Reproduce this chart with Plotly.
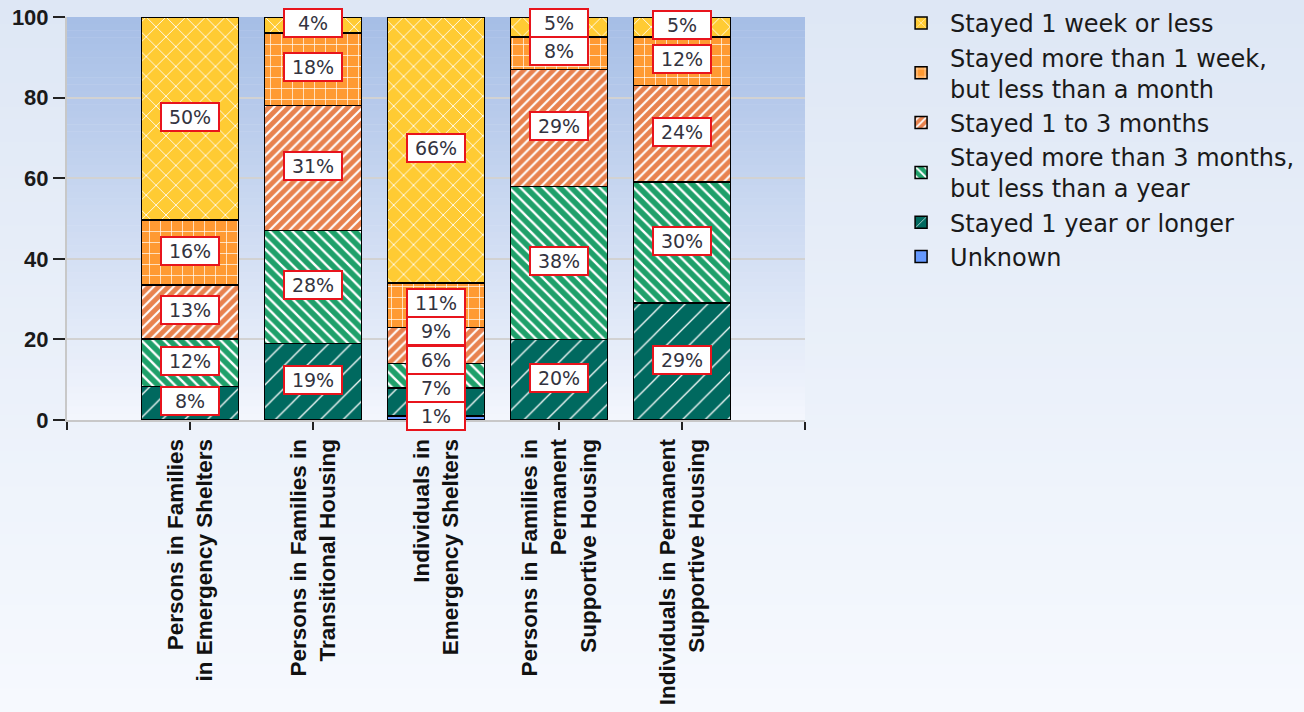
import plotly.graph_objects as go

categories = [
    "Persons in Families<br>in Emergency Shelters",
    "Persons in Families in<br>Transitional Housing",
    "Individuals in<br>Emergency Shelters",
    "Persons in Families in<br>Permanent<br>Supportive Housing",
    "Individuals in Permanent<br>Supportive Housing",
]
positions = [1, 2, 3, 4, 5]

series_names = [
    "Unknown",
    "Stayed 1 year or longer",
    "Stayed more than 3 months,<br>but less than a year",
    "Stayed 1 to 3 months",
    "Stayed more than 1 week,<br>but less than a month",
    "Stayed 1 week or less",
]
unknown = [0, 0, 1, 0, 0]
year_plus = [8.3, 19, 7, 20, 29]
months3_year = [11.8, 28, 6, 38, 30]
months1_3 = [13.4, 31, 9, 29, 24]
week_month = [16.1, 18, 11, 8, 12]
week_less = [50.4, 4, 66, 5, 5]
series_values = [unknown, year_plus, months3_year, months1_3, week_month, week_less]

colors = ["#6699FF", "#00695F", "#1FA06A", "#E8824E", "#FF9A33", "#FFCB33"]
patterns = [
    dict(shape=""),
    dict(shape="/", size=16, solidity=0.08),
    dict(shape="\\", size=8, solidity=0.3),
    dict(shape="/", size=7, solidity=0.3),
    dict(shape="+", size=11, solidity=0.12),
    dict(shape="x", size=14, solidity=0.12),
]

fig = go.Figure()
for name, vals, col, pat in zip(series_names, series_values, colors, patterns):
    p = dict(pat)
    if p["shape"]:
        p.update(fgcolor="white", bgcolor=col, fillmode="replace")
    fig.add_trace(go.Bar(
        x=positions, y=vals, name=name, width=0.79,
        marker=dict(color=col, line=dict(color="black", width=1.5), pattern=p),
        hoverinfo="skip",
    ))

# value labels (white boxes with red border), de-overlapped upward
gap = 7.0
for i, xp in enumerate(positions):
    base = 0.0
    items = []
    for vals in series_values:
        v = vals[i]
        if v > 0:
            items.append((base + v / 2.0, v))
        base += v
    prev = None
    for center, v in items:
        yv = center if prev is None else max(center, prev + gap)
        prev = yv
        fig.add_annotation(
            x=xp, y=yv, text=f"{round(v)}%", showarrow=False, yshift=2,
            font=dict(family="DejaVu Sans", size=19, color="#333340"),
            bgcolor="white", bordercolor="#E8141C", borderwidth=2, borderpad=1,
            width=54, height=24,
        )

# gradient backgrounds
shapes = []
nb = 60
top_p, bot_p = (222, 231, 245), (246, 249, 254)
for k in range(nb):
    t = k / (nb - 1)
    c = tuple(round(top_p[j] + (bot_p[j] - top_p[j]) * t) for j in range(3))
    y1 = 1 + 17 / 403 - k * (712 / 403) / nb
    y0 = y1 - (712 / 403) / nb - 0.002
    shapes.append(dict(type="rect", xref="paper", yref="paper", x0=-67 / 738, x1=1237 / 738,
                       y0=y0, y1=y1, fillcolor=f"rgb{c}", line=dict(width=0), layer="below"))
top_c, bot_c = (166, 190, 230), (243, 246, 253)
for k in range(nb):
    t = k / (nb - 1)
    c = tuple(round(top_c[j] + (bot_c[j] - top_c[j]) * t) for j in range(3))
    y1 = 1 - k / nb
    y0 = y1 - 1 / nb - 0.001
    shapes.append(dict(type="rect", xref="x domain", yref="y domain", x0=0, x1=1,
                       y0=max(y0, 0), y1=y1, fillcolor=f"rgb{c}", line=dict(width=0), layer="below"))

fig.update_layout(
    width=1304, height=712,
    margin=dict(l=67, r=499, t=17, b=292, autoexpand=False),
    barmode="stack",
    paper_bgcolor="#EAF0F9",
    plot_bgcolor="rgba(0,0,0,0)",
    shapes=shapes,
    showlegend=True,
    legend=dict(
        x=1.118, y=1.04, xanchor="left", yanchor="top",
        traceorder="reversed",
        font=dict(family="DejaVu Sans", size=24, color="#1a1a1a"),
        bgcolor="rgba(0,0,0,0)", itemwidth=48,
        tracegroupgap=0,
    ),
    xaxis=dict(
        range=[0, 6],
        tickmode="array",
        tickvals=[0] + positions + [6],
        ticktext=[""] + categories + [""],
        tickangle=-90,
        ticks="outside", ticklen=8, tickwidth=2, tickcolor="#222222",
        showline=True, linecolor="#C8C8C8", linewidth=2,
        showgrid=False, zeroline=False,
        tickfont=dict(family="Liberation Sans", size=22.5, color="#111111", weight="bold"),
    ),
    yaxis=dict(
        range=[0, 100],
        tickvals=[0, 20, 40, 60, 80, 100],
        ticks="outside", ticklen=12, tickwidth=2, tickcolor="#222222",
        showline=True, linecolor="#C8C8C8", linewidth=2,
        showgrid=True, gridcolor="#D2D2D2", gridwidth=1.5,
        zeroline=False,
        tickfont=dict(family="Liberation Sans", size=22, color="#1a1a1a", weight="bold"),
    ),
)

fig.write_html("out.html", config={"displayModeBar": False},
               post_script="document.body.style.margin='0';")
